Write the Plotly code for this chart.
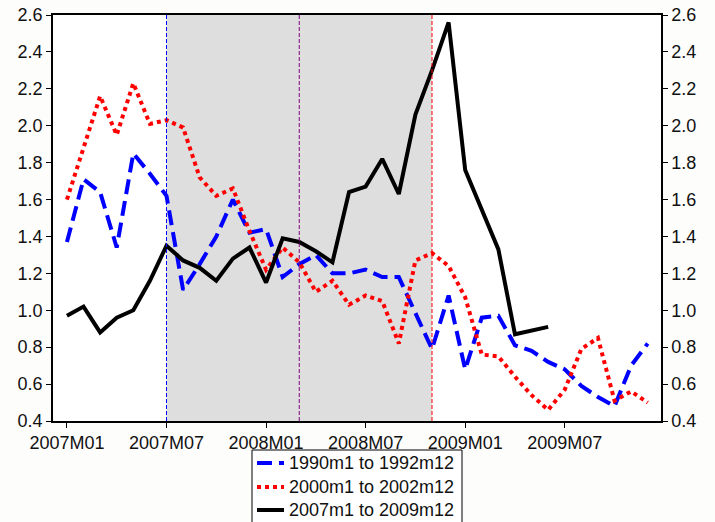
import plotly.graph_objects as go

# Monthly axis: 2007M01 .. 2009M12
years = [2007, 2008, 2009]
months = [f"{y}M{m:02d}" for y in years for m in range(1, 13)]
tick_labels = ["2007M01", "2007M07", "2008M01", "2008M07", "2009M01", "2009M07"]
y_ticks = [0.4, 0.6, 0.8, 1.0, 1.2, 1.4, 1.6, 1.8, 2.0, 2.2, 2.4, 2.6]

series_1990 = [1.37, 1.71, 1.64, 1.34, 1.85, 1.74, 1.62, 1.11, 1.25, 1.40, 1.60, 1.42,
               1.44, 1.18, 1.25, 1.30, 1.20, 1.20, 1.22, 1.18, 1.18, 0.98, 0.79, 1.08,
               0.68, 0.96, 0.97, 0.81, 0.78, 0.72, 0.68, 0.59, 0.53, 0.48, 0.70, 0.82]
series_2000 = [1.60, 1.88, 2.16, 1.95, 2.23, 2.01, 2.03, 1.99, 1.72, 1.62, 1.66, 1.43,
               1.22, 1.34, 1.26, 1.10, 1.16, 1.03, 1.08, 1.05, 0.82, 1.27, 1.31, 1.24,
               1.07, 0.76, 0.75, 0.64, 0.54, 0.46, 0.57, 0.79, 0.85, 0.51, 0.56, 0.50]
series_2007 = [0.97, 1.02, 0.88, 0.96, 1.00, 1.16, 1.35, 1.27, 1.23, 1.16, 1.28, 1.34,
               1.15, 1.39, 1.37, 1.32, 1.26, 1.64, 1.67, 1.82, 1.63, 2.06, 2.30, 2.56,
               1.76, 1.54, 1.33, 0.87, 0.89, 0.91]

names = ["1990m1 to 1992m12", "2000m1 to 2002m12", "2007m1 to 2009m12"]

# shaded period and marker lines (month index)
shade_start, shade_end = 6, 22
markers = [(6, "blue"), (14, "purple"), (22, "red")]

FONT = "Liberation Sans, Arial, Helvetica, sans-serif"
W, H = 715, 522
ML, MR, MT, MB = 53, 54, 15, 101
PW, PH = W - ML - MR, H - MT - MB

styles = [
    dict(color="#0000ff", width=4, dash="15px,7px"),
    dict(color="#ff0000", width=4, dash="4px,4px"),
    dict(color="#000000", width=4),
]
data = [series_1990, series_2000, series_2007]

fig = go.Figure()
for name, vals, st in zip(names, data, styles):
    fig.add_trace(go.Scatter(x=months[:len(vals)], y=vals, name=name, mode="lines",
                             line=st, showlegend=False))
# empty trace so the right-hand value axis is drawn
fig.add_trace(go.Scatter(x=[], y=[], yaxis="y2", showlegend=False, hoverinfo="skip"))

fig.add_shape(type="rect", xref="x", yref="paper", x0=shade_start, x1=shade_end, y0=0, y1=1,
              fillcolor="#dedede", line=dict(width=0), layer="below")
for xi, col in markers:
    fig.add_shape(type="line", xref="x", yref="paper", x0=xi, x1=xi, y0=0, y1=1,
                  line=dict(color=col, width=1, dash="4px,2px"), layer="above")


# key box below the plot (pixel layout converted to paper units)
def px_x(px):
    return (px - ML) / PW


def px_y(py):
    return (H - MB - py) / PH


fig.add_shape(type="rect", xref="paper", yref="paper",
              x0=px_x(252), x1=px_x(462), y0=px_y(540), y1=px_y(450),
              line=dict(color="black", width=1), fillcolor="white")
row_y = [463, 487, 510]
for name, st, ry in zip(names, styles, row_y):
    fig.add_shape(type="line", xref="paper", yref="paper",
                  x0=px_x(257), x1=px_x(284), y0=px_y(ry), y1=px_y(ry), line=st)
    fig.add_annotation(text=name, xref="paper", yref="paper", x=px_x(287), y=px_y(ry),
                       xanchor="left", yanchor="middle", showarrow=False,
                       font=dict(size=18, family=FONT, color="#111111"))

axis_common = dict(showgrid=False, zeroline=False, showline=True, linecolor="black",
                   linewidth=1.5, ticks="outside", ticklen=5, tickcolor="black",
                   tickfont=dict(size=18, color="#111111", family=FONT))

fig.update_layout(
    width=W, height=H,
    margin=dict(l=ML, r=MR, t=MT, b=MB, autoexpand=False),
    paper_bgcolor="#fdfdfc", plot_bgcolor="white",
    font=dict(family=FONT, size=18, color="#111111"),
    xaxis=dict(type="category", categoryorder="array", categoryarray=months,
               range=[-0.84, 35.8], tickvals=tick_labels, ticktext=tick_labels,
               mirror=True, **axis_common),
    yaxis=dict(range=[0.4, 2.6], tickvals=y_ticks, tickformat=".1f", mirror=True,
               **axis_common),
    yaxis2=dict(range=[0.4, 2.6], tickvals=y_ticks, tickformat=".1f", overlaying="y",
                side="right", **axis_common),
    showlegend=False,
)

fig.write_html("out.html")
